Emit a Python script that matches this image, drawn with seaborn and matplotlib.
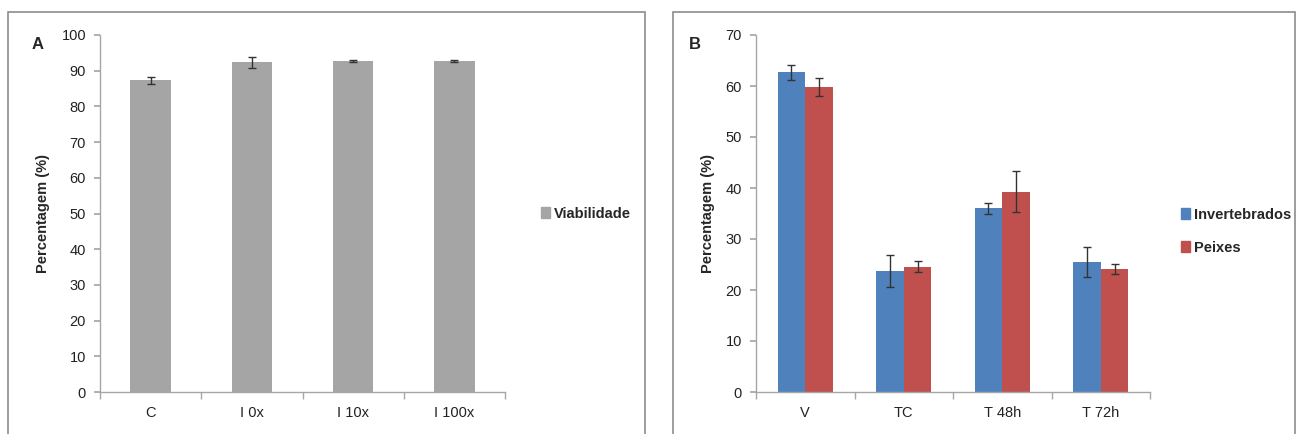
import numpy as np
import pandas as pd
import seaborn as sns
import matplotlib.pyplot as plt
from matplotlib.patches import Rectangle, Patch
from matplotlib.ticker import FixedLocator

# ---- data ----
cats_a = ["C", "I 0x", "I 10x", "I 100x"]
viab = [87.3, 92.3, 92.7, 92.7]
viab_err = [1.0, 1.5, 0.3, 0.3]

cats_b = ["V", "TC", "T 48h", "T 72h"]
series_b = ["Invertebrados", "Peixes"]
invert = [62.7, 23.7, 36.0, 25.5]
invert_err = [1.5, 3.2, 1.0, 3.0]
peixes = [59.8, 24.6, 39.3, 24.1]
peixes_err = [1.8, 1.0, 4.0, 1.0]

sns.set_theme(style="white")
plt.rcParams['font.family'] = ['Liberation Sans', 'DejaVu Sans']

fig = plt.figure(figsize=(12.97, 4.34), dpi=100)
W, H = 1297, 434

def fx(px): return px / W
def fy(py): return 1 - py / H

# panel borders
fig.patches.append(Rectangle((fx(8), fy(440)), fx(645 - 8), fy(12) - fy(440),
                             transform=fig.transFigure, fill=False, ec="#8c8c8c", lw=1.2))
fig.patches.append(Rectangle((fx(673), fy(440)), fx(1295 - 673), fy(12) - fy(440),
                             transform=fig.transFigure, fill=False, ec="#8c8c8c", lw=1.2))

axA = fig.add_axes([fx(100), fy(392), fx(505 - 100), fy(35) - fy(392)])
axB = fig.add_axes([fx(756), fy(392), fx(1150 - 756), fy(35) - fy(392)])

# ---- panel A ----
dfA = pd.DataFrame({"cat": cats_a, "val": viab})
sns.barplot(data=dfA, x="cat", y="val", color="#A5A5A5", width=0.4, ax=axA,
            saturation=1, errorbar=None, linewidth=0)
axA.errorbar(range(len(cats_a)), viab, yerr=viab_err, fmt="none", ecolor="#333333",
             elinewidth=1, capsize=3, capthick=1)
axA.set_ylim(0, 100)
axA.set_yticks(np.arange(0, 101, 10))
axA.set_xlim(-0.5, 3.5)
axA.legend(handles=[Patch(color="#A5A5A5", label="Viabilidade")],
           loc="center left", bbox_to_anchor=(fx(528 - 100) / fx(405), 0.5),
           frameon=False, handlelength=0.6, handleheight=0.8, handletextpad=0.3,
           prop={"weight": "bold", "size": 10.5})
axA.text(-0.17, 0.96, "A", transform=axA.transAxes, fontsize=12, fontweight="bold")

# ---- panel B ----
dfB = pd.DataFrame({
    "cat": cats_b * 2,
    "serie": [series_b[0]] * 4 + [series_b[1]] * 4,
    "val": invert + peixes,
})
sns.barplot(data=dfB, x="cat", y="val", hue="serie", palette=["#4F81BD", "#C0504D"],
            width=0.56, ax=axB, saturation=1, errorbar=None, legend=False,
            linewidth=0, gap=0)
errs = invert_err + peixes_err
vals = invert + peixes
for p, v, e in zip(axB.patches[:8], vals, errs):
    cx = p.get_x() + p.get_width() / 2
    axB.errorbar(cx, v, yerr=e, fmt="none", ecolor="#333333", elinewidth=1,
                 capsize=3, capthick=1)
axB.set_ylim(0, 70)
axB.set_yticks(np.arange(0, 71, 10))
axB.set_xlim(-0.5, 3.5)
axB.legend(handles=[Patch(color="#4F81BD", label="Invertebrados"),
                    Patch(color="#C0504D", label="Peixes")],
           loc="center left", bbox_to_anchor=(fx(1168 - 756) / fx(394), 0.45),
           frameon=False, handlelength=0.6, handleheight=0.8, handletextpad=0.3,
           labelspacing=1.3, prop={"weight": "bold", "size": 10.5})
axB.text(-0.17, 0.96, "B", transform=axB.transAxes, fontsize=12, fontweight="bold")

for ax in (axA, axB):
    ax.set_xlabel("")
    ax.set_ylabel("Percentagem (%)", fontsize=10.5, fontweight="bold", labelpad=8)
    for s in ("top", "right"):
        ax.spines[s].set_visible(False)
    for s in ("left", "bottom"):
        ax.spines[s].set_color("#a6a6a6")
        ax.spines[s].set_linewidth(1)
    ax.tick_params(axis="y", which="major", length=4, color="#a6a6a6", direction="out",
                   left=True, labelsize=10.5, labelcolor="#222222", pad=6)
    ax.tick_params(axis="x", which="major", length=0, labelsize=10.5,
                   labelcolor="#222222", pad=10)
    ax.xaxis.set_minor_locator(FixedLocator([-0.5, 0.5, 1.5, 2.5, 3.5]))
    ax.tick_params(axis="x", which="minor", length=5, color="#a6a6a6",
                   direction="out", bottom=True)

fig.savefig("out.png", dpi=100, facecolor="white")
